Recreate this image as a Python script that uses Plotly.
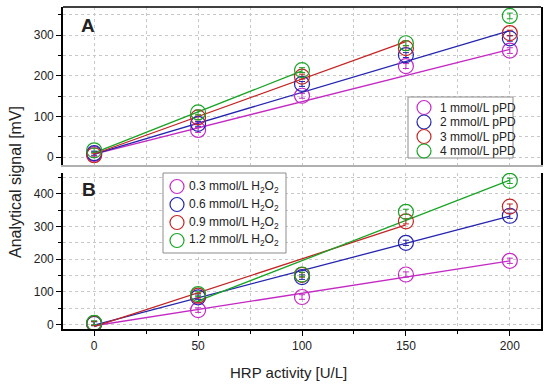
import plotly.graph_objects as go

# ---------------- data ----------------
hrp_activity = [0, 50, 100, 150, 200]

# Panel A: different pPD concentrations
labels_A = ["1 mmol/L pPD", "2 mmol/L pPD", "3 mmol/L pPD", "4 mmol/L pPD"]
sig_A_1 = [8, 67, 151, 224, 262]
sig_A_2 = [10, 82, 180, 251, 292]
sig_A_3 = [5, 98, 198, 268, 305]
sig_A_4 = [17, 110, 214, 280, 347]
err_A = [5, 6, 6, 6, 7]
# linear fits (intercept, slope, fitted x-range)
fit_A_intercept = [8, 8, 8, 11]
fit_A_slope = [1.285, 1.515, 1.84, 2.01]
fit_A_xstart = [0, 0, 0, 0]
fit_A_xend = [200, 200, 150, 100]

# Panel B: different H2O2 concentrations
labels_B = ["0.3 mmol/L H<sub>2</sub>O<sub>2</sub>", "0.6 mmol/L H<sub>2</sub>O<sub>2</sub>",
            "0.9 mmol/L H<sub>2</sub>O<sub>2</sub>", "1.2 mmol/L H<sub>2</sub>O<sub>2</sub>"]
sig_B_1 = [4, 44, 84, 153, 195]
sig_B_2 = [2, 83, 145, 250, 333]
sig_B_3 = [3, 88, 152, 316, 361]
sig_B_4 = [5, 93, 153, 345, 440]
err_B = [6, 7, 7, 8, 8]
fit_B_intercept = [-4, -2, -7, -51.3]
fit_B_slope = [0.995, 1.67, 2.08, 2.467]
fit_B_xstart = [0, 0, 0, 50]
fit_B_xend = [200, 200, 150, 200]

colors = ["#C429C4", "#2424B0", "#C42424", "#18A424"]

series_A = [sig_A_1, sig_A_2, sig_A_3, sig_A_4]
series_B = [sig_B_1, sig_B_2, sig_B_3, sig_B_4]

# ---------------- geometry helpers ----------------
W, H = 550, 385
ML, MR, MT, MB = 63, 9, 7, 56
PW = W - ML - MR
PH = H - MT - MB


def px(x):
    return (x - ML) / PW


def py(y):
    return (H - MB - y) / PH


FONT = "Liberation Sans, Arial, sans-serif"

fig = go.Figure()

# ---------------- traces ----------------
for panel, series, errs, b0, b1, xs, xe, xa, ya in [
    ("A", series_A, err_A, fit_A_intercept, fit_A_slope, fit_A_xstart, fit_A_xend, "x", "y"),
    ("B", series_B, err_B, fit_B_intercept, fit_B_slope, fit_B_xstart, fit_B_xend, "x2", "y2"),
]:
    for i, vals in enumerate(series):
        # fit line
        fx = [xs[i], xe[i]]
        fy = [b0[i] + b1[i] * v for v in fx]
        fig.add_trace(go.Scatter(x=fx, y=fy, mode="lines", xaxis=xa, yaxis=ya,
                                 line=dict(color=colors[i], width=1.3),
                                 showlegend=False, hoverinfo="skip"))
    for i, vals in enumerate(series):
        fig.add_trace(go.Scatter(
            x=hrp_activity, y=vals, mode="markers", xaxis=xa, yaxis=ya,
            marker=dict(symbol="circle-open", size=15, color=colors[i],
                        line=dict(width=1.2, color=colors[i])),
            error_y=dict(type="data", array=errs, visible=True, color=colors[i],
                         thickness=1, width=3),
            showlegend=False))

# ---------------- axes ----------------
domA = [(H - MB - 165) / PH, 1.0]
domB = [0.0, (H - MB - 173) / PH]

grid = dict(showgrid=True, gridcolor="#c8c8c8", gridwidth=1, griddash="dot")
tickfont = dict(family=FONT, size=12, color="#222222")

fig.update_layout(
    width=W, height=H,
    margin=dict(l=ML, r=MR, t=MT, b=MB),
    paper_bgcolor="white", plot_bgcolor="white",
    showlegend=False,
    font=dict(family=FONT, size=12, color="#222222"),
    xaxis=dict(domain=[0, 1], anchor="y", range=[-15, 215], dtick=50,
               showticklabels=False, ticks="", showline=True, linecolor="#b0b0b0",
               linewidth=1.5, zeroline=False, matches="x2",
               minor=dict(dtick=25, showgrid=True, gridcolor="#c8c8c8", griddash="dot"),
               **grid),
    yaxis=dict(domain=domA, anchor="x", range=[-19, 369], dtick=100,
               ticks="outside", ticklen=5, tickwidth=1.3, tickcolor="black",
               showline=True, linecolor="black", linewidth=1.6, mirror=True,
               zeroline=False, tickfont=tickfont,
               minor=dict(dtick=50, ticks="outside", ticklen=3, tickcolor="black",
                          showgrid=True, gridcolor="#c8c8c8", griddash="dot"),
               **grid),
    xaxis2=dict(domain=[0, 1], anchor="y2", range=[-15, 215], dtick=50,
                ticks="outside", ticklen=5, tickwidth=1.3, tickcolor="black",
                showline=True, linecolor="black", linewidth=1.6,
                zeroline=False, tickfont=tickfont,
                minor=dict(dtick=25, ticks="outside", ticklen=3, tickcolor="black",
                           showgrid=True, gridcolor="#c8c8c8", griddash="dot"),
                **grid),
    yaxis2=dict(domain=domB, anchor="x2", range=[-14, 464], dtick=100,
                ticks="outside", ticklen=5, tickwidth=1.3, tickcolor="black",
                showline=True, linecolor="black", linewidth=1.6, mirror=True,
                zeroline=False, tickfont=tickfont,
                minor=dict(dtick=50, ticks="outside", ticklen=3, tickcolor="black",
                           showgrid=True, gridcolor="#c8c8c8", griddash="dot"),
                **grid),
)

shapes = []
annotations = []

# top frame line of panel A
shapes.append(dict(type="line", xref="paper", yref="paper", x0=0, x1=1,
                   y0=1, y1=1, line=dict(color="black", width=1.6)))

# axis titles
annotations.append(dict(text="Analytical signal [mV]", xref="paper", yref="paper",
                        x=px(15), y=py(182), textangle=-90, showarrow=False,
                        font=dict(family=FONT, size=16, color="#222222"),
                        xanchor="center", yanchor="middle"))
annotations.append(dict(text="HRP activity [U/L]", xref="paper", yref="paper",
                        x=px(288), y=py(372), showarrow=False,
                        font=dict(family=FONT, size=15, color="#222222"),
                        xanchor="center", yanchor="middle"))
# panel letters
annotations.append(dict(text="<b>A</b>", xref="paper", yref="paper", x=px(88), y=py(25),
                        showarrow=False, font=dict(family=FONT, size=19, color="#222222"),
                        xanchor="center", yanchor="middle"))
annotations.append(dict(text="<b>B</b>", xref="paper", yref="paper", x=px(89), y=py(189),
                        showarrow=False, font=dict(family=FONT, size=19, color="#222222"),
                        xanchor="center", yanchor="middle"))


def add_legend(box, cx, tx, ys, labels):
    x0, y0, x1, y1 = box
    shapes.append(dict(type="rect", xref="paper", yref="paper",
                       x0=px(x0), x1=px(x1), y0=py(y1), y1=py(y0),
                       line=dict(color="#8c8c8c", width=1), fillcolor="white", layer="above"))
    for i, (yy, lab) in enumerate(zip(ys, labels)):
        shapes.append(dict(type="circle", xref="paper", yref="paper",
                           xsizemode="pixel", ysizemode="pixel",
                           xanchor=px(cx), yanchor=py(yy),
                           x0=-7, x1=7, y0=-7, y1=7,
                           line=dict(color=colors[i], width=1.2), layer="above"))
        annotations.append(dict(text=lab, xref="paper", yref="paper", x=px(tx), y=py(yy),
                                showarrow=False, xanchor="left", yanchor="middle",
                                font=dict(family=FONT, size=12, color="#222222")))


add_legend((408, 97, 513, 158), 424, 438, [107.5, 122, 136.5, 151], labels_A)
add_legend((163, 173, 286, 253), 177, 187, [186.5, 204.5, 222.5, 240.5], labels_B)

fig.update_layout(shapes=shapes, annotations=annotations)

fig.write_html(
    "out.html",
    config={"displayModeBar": False},
    post_script="document.body.style.margin='0';document.body.style.overflow='hidden';",
)
